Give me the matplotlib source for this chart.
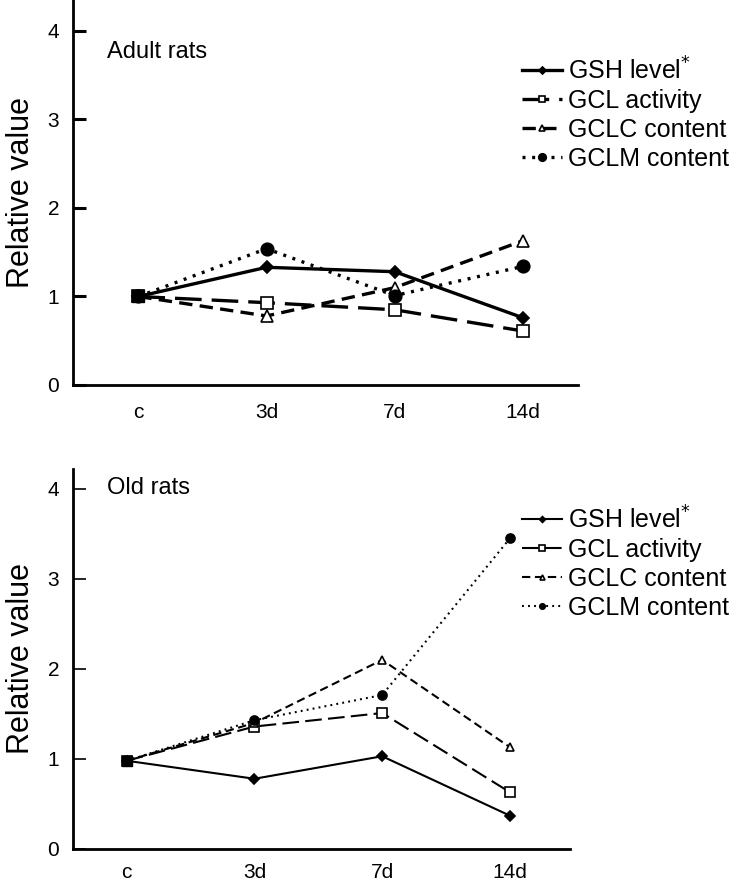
import matplotlib.pyplot as plt
import numpy as np

plt.rcParams['font.family'] = ['Liberation Sans', 'DejaVu Sans']

days = ["c", "3d", "7d", "14d"]
labels = ["GSH level$^{*}$", "GCL activity", "GCLC content", "GCLM content"]

# adult rats
adult_gsh = [1.00, 1.33, 1.28, 0.76]
adult_gcl = [1.00, 0.93, 0.85, 0.61]
adult_gclc = [1.00, 0.78, 1.10, 1.63]
adult_gclm = [1.00, 1.54, 1.01, 1.34]

# old rats
old_gsh = [0.98, 0.78, 1.03, 0.37]
old_gcl = [0.98, 1.36, 1.51, 0.63]
old_gclc = [0.98, 1.40, 2.10, 1.13]
old_gclm = [0.98, 1.43, 1.71, 3.45]

W, H = 754, 882
fig = plt.figure(figsize=(W / 100, H / 100), dpi=100)


def panel(ax, series, lw, ms, title, title_y, leg_y, xlim, ylim_top,
          tickw, xpad):
    x = np.arange(len(days))
    styles = [
        dict(ls="-", marker="D", mfc="black", ms=ms[0]),
        dict(ls=(0, (8, 3)), marker="s", mfc="white", ms=ms[1]),
        dict(ls=(0, (4, 2.2)), marker="^", mfc="white", ms=ms[2]),
        dict(ls=(0, (0.9, 2.0)), marker="o", mfc="black", ms=ms[3]),
    ]
    for vals, lab, st in zip(series, labels, styles):
        ax.plot(x, vals, color="black", lw=lw, mec="black", mew=1.2,
                label=lab, **st)
    # all series start from the same control point
    ax.plot(x[:1], series[1][:1], "s", color="black", ms=ms[1] + 1)
    ax.set_xlim(*xlim)
    ax.set_ylim(0, ylim_top)
    ax.set_xticks(x)
    ax.set_xticklabels(days)
    ax.set_yticks([0, 1, 2, 3, 4])
    ax.tick_params(axis="x", length=0, pad=xpad, labelsize=15)
    ax.tick_params(axis="y", direction="in", length=9, width=tickw,
                   pad=10, labelsize=15)
    for s in ["top", "right"]:
        ax.spines[s].set_visible(False)
    for s in ["left", "bottom"]:
        ax.spines[s].set_linewidth(2)
    ax.set_ylabel("Relative value", fontsize=22, labelpad=8)
    fig.text(107 / W, 1 - title_y / H, title, fontsize=17,
             ha="left", va="center")
    ax.legend(loc="upper left", bbox_to_anchor=(522 / W, 1 - leg_y / H),
              bbox_transform=fig.transFigure, frameon=False, fontsize=18,
              handlelength=1.6, handletextpad=0.25, labelspacing=0.2,
              borderpad=0, borderaxespad=0, markerscale=0.6)


ax1 = fig.add_axes([73 / W, 1 - 385 / H, (578 - 73) / W, 385 / H])
panel(ax1, [adult_gsh, adult_gcl, adult_gclc, adult_gclm], 2.4,
      [6, 8, 8, 9], "Adult rats", 52, 57, (-0.51, 3.43), 4.35, 2.2, 13)

ax2 = fig.add_axes([73 / W, 1 - 849 / H, (570 - 73) / W, (849 - 469) / H])
panel(ax2, [old_gsh, old_gcl, old_gclc, old_gclm], 1.5,
      [5, 6.5, 6, 6.5], "Old rats", 488, 506, (-0.42, 3.47), 4.22, 1.2, 10)

fig.savefig("out.png", dpi=100)
